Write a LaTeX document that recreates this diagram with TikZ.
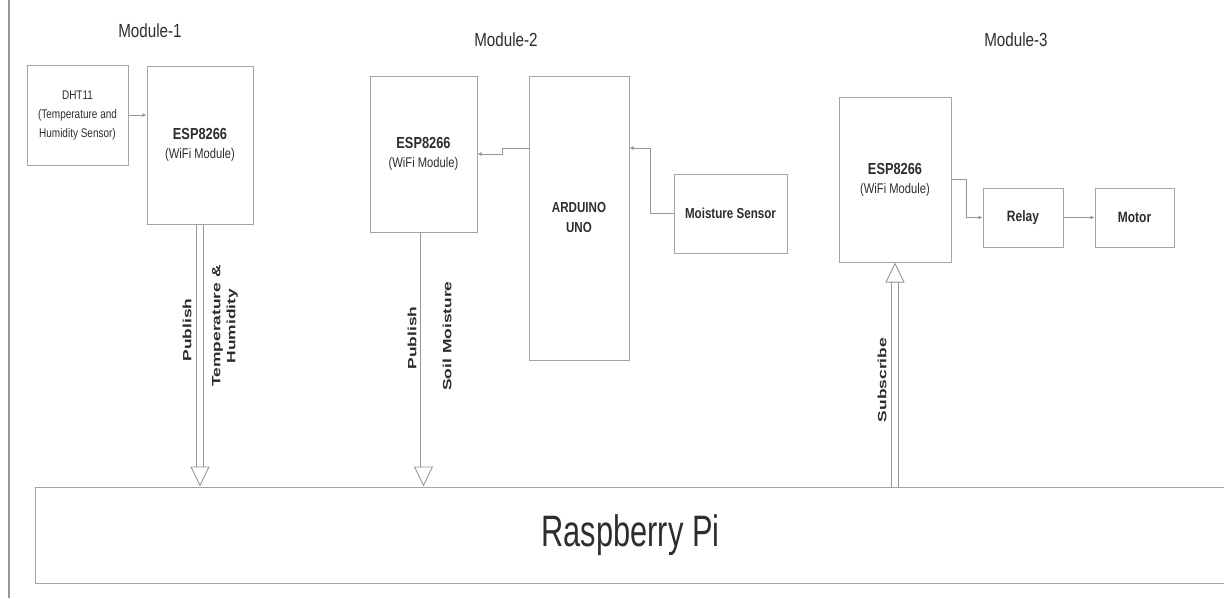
\documentclass[tikz,border=0pt]{standalone}
\usepackage{fontspec}
\setmainfont{Liberation Sans}
\newfontfamily\narrowfont{Liberation Sans}[FakeStretch=0.8]
\newfontfamily\rpifont{Liberation Sans}[FakeStretch=0.7]
\newfontfamily\widefont{Liberation Sans}[FakeStretch=1.45]
\usetikzlibrary{arrows.meta,positioning}

\definecolor{linegray}{RGB}{150,150,150}
\definecolor{boxgray}{RGB}{165,165,165}
\definecolor{textgray}{RGB}{45,45,45}

\tikzset{
  box/.style={draw=boxgray, line width=1pt, inner sep=0pt, align=center, text=textgray,
    font=\narrowfont\fontsize{14}{19}\selectfont},
  link/.style={draw=linegray, line width=1pt, -{Latex[length=4pt,width=4pt]}},
  hollow/.style={draw=linegray, line width=0.9pt, double, double distance=6pt,
    -{Triangle[open,length=20pt,width=19pt]}},
  modlabel/.style={text=textgray, font=\narrowfont\fontsize{19}{22}\selectfont},
  vlabel/.style={rotate=90, align=center, text=textgray,
    font=\widefont\bfseries\fontsize{12}{15}\selectfont},
}

\begin{document}
\begin{tikzpicture}[x=1pt,y=-1pt]
    \useasboundingbox (0,0) rectangle (1224,598);
    % page edge
    \draw[linegray, line width=1.2pt] (9,0) -- (9,598);

    % module 1
    \node[modlabel] (mod1) at (150,31) {Module-1};
    \node[box, minimum width=101, minimum height=100,
        font=\narrowfont\fontsize{12.5}{19}\selectfont] (dht) at (77.5,115)
        {DHT11\\(Temperature and\\Humidity Sensor)};
    \node[box, minimum width=106, minimum height=158] (esp1) at (200,145)
        {{\bfseries\fontsize{16}{18}\selectfont ESP8266}\\(WiFi Module)};
    \draw[link] (dht.east) -- (dht.east -| esp1.west);

    % module 2
    \node[modlabel] (mod2) at (506,40) {Module-2};
    \node[box, minimum width=107, minimum height=156] (esp2) at (423.5,154)
        {{\bfseries\fontsize{16}{18}\selectfont ESP8266}\\(WiFi Module)};
    \node[box, minimum width=100, minimum height=284, font=\narrowfont\bfseries\fontsize{14.5}{20}\selectfont]
        (ard) at (579,218) {ARDUINO\\UNO};
    \node[box, minimum width=113, minimum height=79, font=\narrowfont\bfseries\fontsize{14.5}{19}\selectfont]
        (moist) at (730.5,213.5) {Moisture Sensor};
    \draw[link] ([yshift=70pt]ard.west) -- ++(-26,0) |- (esp2.east);
    \draw[link] (moist.west) -- ++(-23,0) |- ([yshift=70pt]ard.east);

    % module 3
    \node[modlabel] (mod3) at (1016,40) {Module-3};
    \node[box, minimum width=112, minimum height=165] (esp3) at (895,179.5)
        {{\bfseries\fontsize{16}{18}\selectfont ESP8266}\\(WiFi Module)};
    \node[box, minimum width=80, minimum height=59, font=\narrowfont\bfseries\fontsize{15}{19}\selectfont]
        (relay) at (1023,217.5) {Relay};
    \node[box, minimum width=79, minimum height=59, font=\narrowfont\bfseries\fontsize{15}{19}\selectfont]
        (motor) at (1134.5,217.5) {Motor};
    \draw[link] (esp3.east) -- ++(15,0) |- (relay.west);
    \draw[link] (relay) -- (motor);

    % broker
    \node[draw=boxgray, line width=1pt, inner sep=0pt, minimum width=1191, minimum height=96,
        text=textgray, font=\rpifont\fontsize{44}{50}\selectfont] (rpi) at (630.5,535) {Raspberry Pi};

    % publish / subscribe
    \draw[hollow] (esp1.south) -- (esp1.south |- rpi.north);
    \draw[hollow] (esp2.south) -- (esp2.south |- rpi.north);
    \draw[hollow] (esp3.south |- rpi.north) -- (esp3.south);
    \node[vlabel] (pub1) at (187,330) {Publish};
    \node[vlabel] (tmphum) at (225,326) {Temperature \&\\Humidity};
    \node[vlabel] (pub2) at (412,338) {Publish};
    \node[vlabel] (soil) at (447,336) {Soil Moisture};
    \node[vlabel] (sub) at (882,380) {Subscribe};
\end{tikzpicture}
\end{document}
